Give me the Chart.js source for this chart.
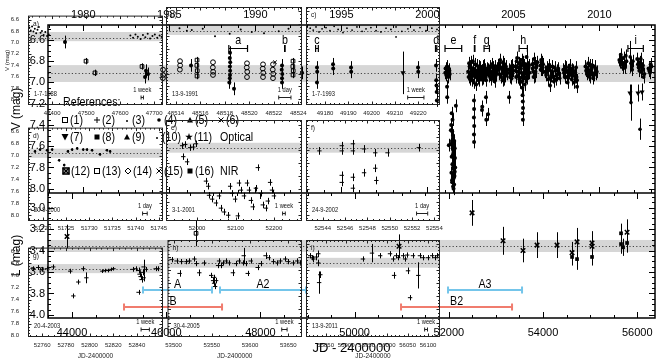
<!DOCTYPE html>
<html>
<head>
<meta charset="utf-8">
<title>V and L light curve</title>
<script src="https://cdn.jsdelivr.net/npm/chart.js"></script>
<style>
  html, body { margin: 0; padding: 0; background: #fff; }
  body { position: relative; width: 664px; height: 364px; overflow: hidden; }
  canvas { position: absolute; }
</style>
</head>
<body>
<canvas id="main" width="664" height="364" style="left:0;top:0"></canvas>
<script>
const FONT = "'Liberation Sans Narrow', 'Liberation Sans', Arial, sans-serif";
Chart.defaults.font.family = FONT;
Chart.defaults.color = '#000';

// ---- main axes ----
const yearLabels = [1980, 1985, 1990, 1995, 2000, 2005, 2010];
const jdLabels = [44000, 46000, 48000, 50000, 52000, 54000, 56000];
const vLabels = [6.6, 6.8, 7.0, 7.2, 7.4, 7.6, 7.8, 8.0];
const lLabels = [3.0, 3.2, 3.4, 3.6, 3.8, 4.0];
const vBand = [6.837, 6.996, 6.91];
const lBand = [3.302, 3.414, 3.358];

// ---- main V light curve (filled points) ----
const mvJD = [
  43851, 45550, 45571, 45614, 46526,
  47354, 47350, 47358, 47352, 47356, 47354, 47350, 47340, 47439,
  48458, 48452, 48464, 48458, 48458,
  48883,
  49201, 49205, 49201,
  49541, 49545,
  49923, 49927,
  51346, 51350,
  51728, 51733, 51738, 51742, 51746,
  51930, 51945, 51960, 51975, 51990, 52005, 52020,
  51962, 51965, 52060, 52150, 52050, 52070, 52090, 52040, 52080, 52100, 52060, 52110, 52075, 52095, 52085, 52105, 52070, 52090, 52115, 52125, 52130, 52055, 52135, 52000, 52120, 52100,
  52410, 52430, 52450, 52470, 52490, 52510, 52530, 52550, 52570, 52590, 52610, 52630, 52650,
  52534, 52536, 52532, 52538, 52534, 52536,
  52670, 52690, 52710, 52730, 52750, 52770, 52790, 52805,
  52704, 52789, 52710, 52795, 52832,
  52840, 52860, 52880, 52900, 52920, 52940, 52960, 52980, 53000, 53020,
  53050, 53070, 53090, 53110, 53130, 53150, 53170, 53190, 53210, 53230,
  53280, 53300, 53320, 53340, 53360, 53278,
  53410, 53430, 53450, 53470, 53490, 53510, 53530, 53550, 53570, 53590, 53610, 53630, 53650, 53670, 53690, 53710,
  53560, 53565, 53570, 53575, 53568, 53572,
  53770, 53790, 53810, 53830, 53850, 53880,
  53940, 53960, 53980, 54000,
  54050, 54080, 54110, 54140, 54170, 54200, 54230, 54260, 54290, 54320, 54350, 54148,
  54430, 54460, 54490, 54520, 54550, 54580, 54610, 54640, 54670, 54700, 54720, 54722,
  54900, 54930, 54960, 54990, 55020, 55050, 55080, 55110, 55140,
  55620, 55650, 55680, 55710, 55740, 55770,
  55870, 55890, 55905,
  56000, 56030, 56060, 56090, 56120, 56150,
  56240, 56270, 56300
];
const mvV = [
  6.62, 6.95, 6.89, 6.92, 6.84,
  6.72, 6.77, 6.81, 6.85, 6.89, 6.93, 6.96, 7.00, 7.06,
  6.84, 6.88, 6.92, 6.96, 7.00,
  6.91,
  6.86, 6.90, 7.00,
  6.83, 6.87,
  6.86, 6.90,
  6.86, 6.90,
  6.84, 6.98, 7.03, 7.09, 7.17,
  6.87, 6.93, 6.85, 6.90, 6.95, 6.88, 6.92,
  7.04, 7.14, 7.29, 7.22, 7.40, 7.46, 7.52, 7.58, 7.62, 7.66, 7.70, 7.73, 7.77, 7.81, 7.86, 7.90, 7.94, 7.98, 7.55, 7.62, 7.71, 7.85, 7.80, 7.59, 7.88, 8.00,
  6.90, 6.82, 6.97, 6.86, 6.93, 6.80, 7.00, 6.88, 6.95, 6.84, 6.91, 6.98, 6.87,
  7.17, 7.25, 7.33, 7.41, 7.49, 7.56,
  6.86, 6.93, 6.89, 6.96, 6.84, 6.91, 6.98, 6.88,
  7.26, 7.14, 7.23, 7.35, 7.30,
  6.88, 6.94, 6.85, 6.97, 6.90, 6.86, 6.95, 6.89, 6.93, 6.87,
  6.84, 6.92, 6.79, 6.95, 6.87, 6.81, 6.97, 6.89, 6.85, 6.92,
  6.88, 6.95, 6.85, 6.92, 6.89, 7.14,
  6.85, 6.95, 6.77, 6.90, 6.82, 7.00, 6.87, 6.79, 6.93, 6.84, 7.02, 6.88, 6.76, 6.96, 6.86, 6.91,
  7.05, 7.12, 7.18, 7.24, 7.29, 7.35,
  6.83, 6.90, 6.78, 6.94, 6.86, 6.81,
  6.84, 6.79, 6.88, 6.83,
  6.90, 6.86, 6.97, 6.88, 6.94, 6.85, 6.99, 6.89, 6.93, 6.87, 6.96, 7.03,
  6.88, 6.95, 6.86, 7.00, 6.91, 6.87, 6.97, 6.89, 6.94, 6.86, 6.98, 7.04,
  6.85, 6.92, 6.82, 6.95, 6.88, 6.84, 6.93, 6.87, 6.90,
  6.79, 6.74, 6.83, 6.77, 6.86, 6.80,
  6.82, 6.88, 6.80,
  6.78, 6.86, 6.81, 6.90, 6.84, 6.92,
  6.87, 6.91, 6.85
];
// more points inside the dense 2001-2012 clusters
const mvDenseJD = [
  51925, 51952, 51985, 52012,
  52043, 52065, 52085, 52105, 52125, 52068, 52098, 52078, 52112, 52088,
  52420, 52440, 52460, 52480, 52500, 52520, 52540, 52560, 52580, 52600, 52620, 52640, 52660,
  52680, 52700, 52720, 52740, 52760, 52780, 52800,
  52850, 52870, 52890, 52910, 52930, 52950, 52970, 52990, 53010,
  53060, 53080, 53100, 53120, 53140, 53160, 53180, 53200, 53220,
  53290, 53310, 53330, 53350,
  53420, 53440, 53460, 53480, 53500, 53520, 53540, 53560, 53580, 53600, 53620, 53640, 53660, 53680, 53700,
  53780, 53800, 53820, 53840, 53860,
  53950, 53970, 53990,
  54065, 54095, 54125, 54155, 54185, 54215, 54245, 54275, 54305, 54335,
  54445, 54475, 54505, 54535, 54565, 54595, 54625, 54655, 54685, 54710,
  54915, 54945, 54975, 55005, 55035, 55065, 55095, 55125,
  55635, 55665, 55695, 55725, 55755,
  56015, 56045, 56075, 56105, 56135,
  56255, 56285
];
const mvDenseV = [
  6.91, 6.86, 6.93, 6.89,
  7.45, 7.55, 7.68, 7.75, 7.84, 7.92, 7.64, 7.35, 7.96, 7.50,
  6.95, 6.85, 6.92, 6.81, 6.98, 6.87, 6.94, 6.83, 7.02, 6.89, 6.96, 6.85, 6.93,
  6.90, 6.97, 6.85, 6.93, 6.88, 6.95, 6.87,
  6.91, 6.87, 6.96, 6.83, 6.94, 6.89, 6.99, 6.85, 6.91,
  6.88, 6.82, 6.93, 6.86, 6.98, 6.90, 6.83, 6.94, 6.88,
  6.91, 6.87, 6.96, 6.84,
  6.89, 6.80, 6.94, 6.86, 6.97, 6.83, 6.91, 6.99, 6.81, 6.92, 6.87, 6.95, 6.83, 6.90, 6.84,
  6.87, 6.95, 6.82, 6.90, 6.85,
  6.88, 6.81, 6.86,
  6.93, 6.88, 6.84, 6.96, 6.90, 6.95, 6.86, 6.97, 6.89, 6.92,
  6.91, 6.85, 6.95, 6.89, 6.84, 6.93, 6.88, 7.00, 6.91, 6.95,
  6.89, 6.86, 6.93, 6.84, 6.91, 6.96, 6.85, 6.92,
  6.81, 6.77, 6.86, 6.82, 6.75,
  6.83, 6.89, 6.78, 6.87, 6.95,
  6.89, 6.83
];
// points with long error bars
const mvLongJD = [55850, 55867, 56058];
const mvLongV = [6.76, 7.19, 7.44];
const mvLongErr = [0.15, 0.17, 0.10];
// open squares, open ovals, triangles, crosses
const msqJD = [44297, 44488, 45486, 46654, 46650, 46658, 46654, 48692, 48688, 48696, 48692];
const msqV = [6.80, 6.91, 6.85, 6.79, 6.84, 6.89, 6.94, 6.80, 6.85, 6.89, 6.93];
const moJD = [45932, 45935, 45930, 46293, 46295, 46290, 46993, 46990, 46996, 46993, 47715, 47710, 47720, 47715, 48055, 48050, 48060, 48055, 48267, 48262, 48272, 48267];
const moV = [6.88, 6.93, 6.96, 6.80, 6.84, 6.88, 6.81, 6.86, 6.90, 6.93, 6.82, 6.86, 6.90, 6.95, 6.83, 6.87, 6.91, 6.95, 6.83, 6.88, 6.92, 6.96];
const mtJD = [51027, 55846, 56016, 56101];
const mtV = [6.91, 7.10, 7.10, 7.09];
const mtErr = [0.20, 0.08, 0.08, 0.08];
const mxJD = [48310];
const mxV = [6.81];

// ---- main L light curve ----
const mlxJD = [43894, 50943, 52493, 53151, 53575, 53873, 54297, 54616, 54722, 55040, 55040, 55784];
const mlxL = [3.27, 3.36, 3.05, 3.31, 3.40, 3.35, 3.35, 3.42, 3.32, 3.33, 3.36, 3.23];
const mlxErr = [0.11, 0.11, 0.12, 0.13, 0.11, 0.12, 0.12, 0.10, 0.13, 0.11, 0.11, 0.12];
const mlsJD = [54616, 54722, 55040, 55656, 55656, 55699, 55784];
const mlsL = [3.46, 3.48, 3.46, 3.24, 3.34, 3.37, 3.33];
const mlsErr = [0.08, 0.10, 0.08, 0.09, 0.09, 0.08, 0.09];
const mloJD = [46633];
const mloL = [3.24];

// ---- periods A, A2, A3, B, B2 ----
const rangeNames = ['A', 'A2', 'A3', 'B', 'B2'];
const rangeStart = [45507, 47142, 51983, 45104, 50985];
const rangeEnd = [46972, 48968, 53554, 47185, 53342];
const rangeL = [3.767, 3.767, 3.767, 3.926, 3.926];

// ---- zoom panels a) ... i) ----
const panelNames = ['a', 'b', 'c', 'd', 'e', 'f', 'g', 'h', 'i'];
const panelStart = [47329, 48513.2, 49171.8, 51716.8, 51919, 52542.5, 52748, 53492, 55802];
const panelEnd = [47726, 48524.3, 49229.4, 51745.9, 52273, 52554.5, 52862, 53668, 56129];
const panelTicks = [
  [47400, 47500, 47600, 47700],
  [48514, 48516, 48518, 48520, 48522, 48524],
  [49180, 49190, 49200, 49210, 49220],
  [51720, 51725, 51730, 51735, 51740, 51745],
  [52000, 52100, 52200],
  [52544, 52546, 52548, 52550, 52552, 52554],
  [52760, 52780, 52800, 52820, 52840],
  [53500, 53550, 53600, 53650],
  [55850, 55900, 55950, 56000, 56050, 56100]
];
const panelDates = ['1-7-1988', '13-9-1991', '1-7-1993', '20-9-2000', '3-1-2001', '24-9-2002', '20-4-2003', '30-4-2005', '13-9-2011'];
const barText = ['1 week', '1 day', '1 week', '1 day', '1 week', '1 day', '1 week', '1 week', '1 week'];
const barDays = [7, 1, 7, 1, 7, 1, 7, 7, 7];
const barJD = [47665, 48522.9, 49219, 51742, 52226, 52552.9, 52847, 53645, 56095];
const insetYLabels = [6.6, 6.8, 7.0, 7.2, 7.4, 7.6, 7.8, 8.0];
const rowYMin = [6.53, 6.53, 6.54];
const rowYMax = [8.1, 8.1, 8.02];
const rowBand = [[6.818, 6.979, 6.915], [6.884, 7.038, 6.961], [6.812, 6.963, 6.887]];

const aJD = [47333, 47337, 47341, 47345, 47349, 47353, 47357, 47361, 47366, 47370, 47375, 47380, 47385, 47390, 47630, 47638, 47645, 47652, 47660, 47667, 47674, 47681, 47688, 47695, 47702, 47709, 47716, 47722];
const aV = [6.74, 6.79, 6.72, 6.81, 6.76, 6.84, 6.78, 6.73, 6.83, 6.80, 6.87, 6.82, 6.89, 6.86, 6.88, 6.92, 6.86, 6.90, 6.94, 6.87, 6.91, 6.85, 6.93, 6.89, 6.86, 6.92, 6.88, 6.90];
const bJD = [48514.3, 48515.3, 48516.2, 48517.2, 48518.4, 48520.2, 48521.2, 48523.2, 48514.9, 48519.3, 48522.4];
const bV = [6.87, 6.90, 6.88, 7.00, 6.96, 6.93, 6.95, 6.88, 6.91, 6.89, 6.92];
const cJD = [49173.6, 49174.9, 49176.1, 49177.4, 49178.7, 49180.4, 49182.1, 49183.9, 49185.6, 49187.7, 49189.4, 49191.6, 49193.7, 49195.9, 49197.6, 49199.7, 49201.9, 49204.0, 49206.2, 49208.3, 49210.5, 49213.0, 49215.6, 49218.2, 49220.8, 49223.4, 49225.9, 49228.1, 49210.5];
const cV = [6.87, 6.90, 6.85, 6.93, 6.88, 6.86, 6.91, 6.84, 6.89, 6.94, 6.87, 6.90, 6.85, 6.92, 6.88, 6.86, 6.91, 6.93, 6.87, 6.89, 6.85, 6.92, 6.88, 6.90, 6.86, 6.91, 6.87, 6.89, 7.01];
const dJD = [51718.3, 51719.4, 51720.9, 51722.0, 51725.4, 51726.3, 51727.4, 51728.7, 51729.5, 51730.6, 51732.3, 51733.8, 51734.5, 51723.5, 51724.6];
const dV = [6.93, 6.90, 6.91, 6.90, 6.93, 6.90, 6.88, 6.90, 6.90, 6.91, 6.98, 6.91, 6.93, 7.08, 7.16];
const eJD = [51961, 51969, 51982, 51990, 51997, 51964, 51974, 52023, 52029, 52031, 52039, 52049, 52057, 52062, 52070, 52081, 52086, 52091, 52099, 52106, 52109, 52114, 52122, 52130, 52135, 52140, 52145, 52153, 52158, 52166, 52171, 52179, 52184, 52190, 52195, 52200];
const eV = [6.93, 6.91, 6.96, 6.95, 6.90, 7.10, 7.18, 7.48, 7.56, 7.70, 7.76, 7.82, 7.71, 7.90, 7.96, 8.01, 7.56, 7.67, 7.76, 8.02, 7.51, 7.62, 7.71, 7.51, 7.62, 7.78, 7.88, 7.59, 7.27, 7.67, 7.85, 7.90, 7.79, 7.50, 7.62, 7.71];
const fJD = [52543.7, 52545.7, 52545.7, 52546.7, 52546.7, 52547.7, 52548.7, 52549.8, 52552.6, 52545.7, 52545.7, 52546.7, 52547.7, 52548.7, 52548.8, 52546.7];
const fV = [7.01, 6.93, 7.01, 6.90, 7.01, 6.98, 7.04, 7.04, 6.96, 7.39, 7.50, 7.42, 7.35, 7.28, 7.47, 7.59];
const gJD = [52752.4, 52756.6, 52760.0, 52764.2, 52769.3, 52783.7, 52786.3, 52790.5, 52794.7, 52797.3, 52810.8, 52813.4, 52815.9, 52818.5, 52820.2, 52836.3, 52838.8, 52841.4, 52842.2, 52843.1, 52843.9, 52844.7, 52845.6, 52845.6, 52841.4, 52847.3, 52855.8, 52857.5];
const gV = [6.89, 6.87, 6.90, 6.89, 6.86, 6.93, 7.34, 7.11, 6.89, 7.04, 6.93, 6.92, 6.92, 6.90, 6.89, 6.90, 6.89, 6.92, 6.98, 7.02, 7.07, 6.95, 6.86, 7.04, 7.28, 6.90, 6.89, 6.89];
const gErr = [0.04, 0.04, 0.04, 0.04, 0.04, 0.04, 0.04, 0.04, 0.04, 0.09, 0.03, 0.03, 0.03, 0.03, 0.03, 0.04, 0.04, 0.05, 0.05, 0.05, 0.05, 0.05, 0.12, 0.06, 0.04, 0.04, 0.04, 0.04];
const hJD = [53497.4, 53503.9, 53507.8, 53510.3, 53516.8, 53520.7, 53527.2, 53529.8, 53533.6, 53540.1, 53549.2, 53551.7, 53553.0, 53553.0, 53555.6, 53554.3, 53558.2, 53559.5, 53562.1, 53564.7, 53568.6, 53572.4, 53577.6, 53581.5, 53585.4, 53590.6, 53591.8, 53594.4, 53597.0, 53600.9, 53610.0, 53613.8, 53620.3, 53624.2, 53630.7, 53635.8, 53639.7, 53646.2, 53650.1, 53656.5, 53661.7, 53665.6];
const hV = [6.84, 6.86, 7.05, 6.87, 6.87, 6.86, 6.83, 6.90, 7.04, 6.89, 7.08, 7.16, 7.20, 7.11, 7.16, 7.25, 6.93, 6.86, 6.93, 6.89, 6.86, 6.89, 7.04, 6.90, 6.86, 6.89, 6.78, 6.90, 7.05, 6.86, 6.96, 6.90, 6.78, 6.81, 6.87, 6.89, 6.86, 6.83, 6.87, 6.89, 6.86, 6.89];
const hErr = [0.04, 0.04, 0.05, 0.04, 0.04, 0.04, 0.04, 0.04, 0.05, 0.04, 0.04, 0.04, 0.04, 0.04, 0.04, 0.04, 0.04, 0.04, 0.04, 0.04, 0.04, 0.04, 0.05, 0.04, 0.04, 0.04, 0.12, 0.04, 0.04, 0.04, 0.04, 0.04, 0.05, 0.04, 0.04, 0.04, 0.04, 0.04, 0.04, 0.04, 0.04, 0.04];
const iJD = [55812, 55817, 55820, 55827, 55832, 55832, 55837, 55834, 55941, 55963, 55983, 56007, 56015, 56017, 56022, 56027, 56039, 56044, 56049, 56051, 56056, 56063, 56076, 56080, 56088, 56100, 56110, 56117, 56122];
const iV = [6.78, 6.81, 6.83, 6.80, 6.75, 6.89, 7.07, 7.19, 6.83, 6.74, 6.78, 6.75, 6.83, 7.08, 6.78, 6.81, 6.78, 6.83, 6.77, 7.01, 7.42, 6.78, 7.08, 6.78, 6.81, 6.81, 6.78, 6.81, 6.78];
const iErr = [0.04, 0.04, 0.05, 0.05, 0.05, 0.05, 0.05, 0.17, 0.04, 0.14, 0.04, 0.04, 0.04, 0.05, 0.04, 0.04, 0.04, 0.04, 0.04, 0.05, 0.04, 0.04, 0.20, 0.04, 0.04, 0.04, 0.04, 0.04, 0.04];

// ---- layout ----
const COLS = [{ x: 28, w: 135 }, { x: 166, w: 136 }, { x: 306, w: 134 }];
const ROWS = [{ y: 7, h: 98 }, { y: 119, h: 102 }, { y: 239, h: 98 }];
const minorStep = [20, 0.5, 2, 1, 20, 0.5, 5, 10, 10];
const SQUEEZE = 0.82; // the figure's lettering is condensed

const pts = (xs, ys) => xs.map((x, i) => ({ x, y: ys[i] }));
function steps(a, b, s) {
  const out = [];
  for (let v = Math.ceil(a / s - 1e-9) * s; v <= b + 1e-9; v += s) out.push(+v.toFixed(4));
  return out;
}
function yearJD(y) { return Date.UTC(y, 0, 1) / 86400000 + 40587.5; }

// condensed text
function ntext(ctx, t, x, y) {
  ctx.save();
  ctx.translate(x, y);
  ctx.scale(SQUEEZE, 1);
  ctx.fillText(t, 0, 0);
  ctx.restore();
}

function drawErrors(chart) {
  const ctx = chart.ctx, A = chart.chartArea;
  ctx.save();
  ctx.beginPath();
  ctx.rect(A.left, A.top, A.right - A.left, A.bottom - A.top);
  ctx.clip();
  ctx.strokeStyle = '#000';
  ctx.lineWidth = 1;
  chart.data.datasets.forEach((ds, i) => {
    if (ds.errs == null) return;
    const meta = chart.getDatasetMeta(i);
    ctx.beginPath();
    ds.data.forEach((p, j) => {
      const e = Array.isArray(ds.errs) ? ds.errs[j] : ds.errs;
      const px = Math.round(meta.xScale.getPixelForValue(p.x)) + 0.5;
      ctx.moveTo(px, meta.yScale.getPixelForValue(p.y - e));
      ctx.lineTo(px, meta.yScale.getPixelForValue(p.y + e));
    });
    ctx.stroke();
  });
  ctx.restore();
}

function drawBand(ctx, l, r, ys, b) {
  const y0 = ys.getPixelForValue(b[0]), y1 = ys.getPixelForValue(b[1]), ym = Math.round(ys.getPixelForValue(b[2])) + 0.5;
  ctx.save();
  ctx.fillStyle = 'rgba(0,0,0,0.16)';
  ctx.fillRect(l, Math.min(y0, y1), r - l, Math.abs(y1 - y0));
  ctx.setLineDash([1.2, 2.2]);
  ctx.strokeStyle = '#444';
  ctx.lineWidth = 1;
  ctx.beginPath();
  ctx.moveTo(l, ym);
  ctx.lineTo(r, ym);
  ctx.stroke();
  ctx.restore();
}

// inward ticks on all four sides of a box
function inTicks(ctx, box, xs, xMaj, xMin, ys, yMaj, yMin, L1, L2) {
  ctx.beginPath();
  const xt = (vals, len) => vals.forEach(v => {
    const p = Math.round(xs.getPixelForValue(v)) + 0.5;
    if (p < box.l || p > box.r) return;
    ctx.moveTo(p, box.t); ctx.lineTo(p, box.t + len);
    ctx.moveTo(p, box.b); ctx.lineTo(p, box.b - len);
  });
  const yt = (vals, len) => vals.forEach(v => {
    const p = Math.round(ys.getPixelForValue(v)) + 0.5;
    if (p < box.t || p > box.b) return;
    ctx.moveTo(box.l, p); ctx.lineTo(box.l + len, p);
    ctx.moveTo(box.r, p); ctx.lineTo(box.r - len, p);
  });
  xt(xMaj, L1); xt(xMin, L2); yt(yMaj, L1); yt(yMin, L2);
  ctx.stroke();
}

function capBar(ctx, x0, x1, y, cap) {
  ctx.beginPath();
  ctx.moveTo(x0, y); ctx.lineTo(x1, y);
  ctx.moveTo(x0, y - cap); ctx.lineTo(x0, y + cap);
  ctx.moveTo(x1, y - cap); ctx.lineTo(x1, y + cap);
  ctx.stroke();
}

// legend symbols
function sym(ctx, k, x, y) {
  ctx.save();
  ctx.fillStyle = '#000'; ctx.strokeStyle = '#000'; ctx.lineWidth = 1;
  ctx.beginPath();
  if (k === 'sq') ctx.strokeRect(x - 2.5, y - 2.5, 5, 5);
  else if (k === 'sqF') ctx.fillRect(x - 2.5, y - 2.5, 5, 5);
  else if (k === 'plus') { ctx.moveTo(x - 3, y); ctx.lineTo(x + 3, y); ctx.moveTo(x, y - 3); ctx.lineTo(x, y + 3); ctx.stroke(); }
  else if (k === 'dot') { ctx.arc(x, y + 1, 1, 0, 7); ctx.fill(); }
  else if (k === 'circ') { ctx.arc(x, y, 1.8, 0, 7); ctx.fill(); }
  else if (k === 'tri') { ctx.moveTo(x, y - 3); ctx.lineTo(x + 3, y + 2.5); ctx.lineTo(x - 3, y + 2.5); ctx.fill(); }
  else if (k === 'triD') { ctx.moveTo(x, y + 3.5); ctx.lineTo(x + 3.5, y - 3); ctx.lineTo(x - 3.5, y - 3); ctx.fill(); }
  else if (k === 'x') { ctx.moveTo(x - 2.5, y - 2.5); ctx.lineTo(x + 2.5, y + 2.5); ctx.moveTo(x + 2.5, y - 2.5); ctx.lineTo(x - 2.5, y + 2.5); ctx.stroke(); }
  else if (k === 'boxX') { ctx.lineWidth = 1.6; ctx.strokeRect(x - 3, y - 3, 6, 6); ctx.moveTo(x - 3, y - 3); ctx.lineTo(x + 3, y + 3); ctx.moveTo(x + 3, y - 3); ctx.lineTo(x - 3, y + 3); ctx.stroke(); }
  else if (k === 'dia') { ctx.moveTo(x, y - 3); ctx.lineTo(x + 3, y); ctx.lineTo(x, y + 3); ctx.lineTo(x - 3, y); ctx.closePath(); ctx.stroke(); }
  else if (k === 'star') {
    for (let i = 0; i < 10; i++) {
      const r = i % 2 ? 1.6 : 4, a = -Math.PI / 2 + i * Math.PI / 5;
      ctx.lineTo(x + r * Math.cos(a), y + r * Math.sin(a));
    }
    ctx.closePath(); ctx.fill();
  }
  ctx.restore();
}
const legendItems = [
  ['sq', '(1)', 65, 120], ['plus', '(2)', 97, 120], ['dot', '(3)', 127, 120], ['circ', '(4)', 159, 120], ['tri', '(5)', 190, 120], ['x', '(6)', 221, 120],
  ['triD', '(7)', 65, 137], ['sqF', '(8)', 97, 137], ['tri', '(9)', 127, 137], ['dot', '(10)', 157, 137], ['star', '(11)', 189, 137],
  ['boxX', '(12)', 66, 171], ['sq', '(13)', 97, 171], ['dia', '(14)', 128, 171], ['x', '(15)', 159, 171], ['sqF', '(16)', 190, 171]
];

const mainDeco = {
  id: 'mainDeco',
  beforeDatasetsDraw(chart) {
    const { ctx, scales: { x, yV, yL } } = chart;
    drawBand(ctx, x.left, x.right, yV, vBand);
    drawBand(ctx, x.left, x.right, yL, lBand);
  },
  afterDatasetsDraw(chart) {
    drawErrors(chart);
    const { ctx, scales: { x, yV, yL } } = chart;
    ctx.save();
    ctx.strokeStyle = '#000';
    ctx.lineWidth = 1;
    const years = [], yearMaj = yearLabels.map(yearJD);
    for (let y = 1977; y <= 2013; y++) years.push(yearJD(y));
    inTicks(ctx, { l: x.left, r: x.right, t: yV.top, b: yV.bottom }, x, yearMaj, years, yV, vLabels, steps(6.5, 8.04, 0.05), 6, 3);
    inTicks(ctx, { l: x.left, r: x.right, t: yL.top, b: yL.bottom }, x, jdLabels, steps(43500, 56377, 500), yL, lLabels, steps(2.9, 4.02, 0.05), 6, 3);
    ctx.lineWidth = 1.5;
    ctx.strokeRect(x.left, yV.top, x.right - x.left, yL.bottom - yV.top);
    ctx.beginPath(); ctx.moveTo(x.left, yV.bottom); ctx.lineTo(x.right, yV.bottom); ctx.stroke();

    // campaign markers a ... i
    ctx.lineWidth = 1.2;
    ctx.fillStyle = '#000';
    ctx.font = `13px ${FONT}`;
    ctx.textAlign = 'center';
    ctx.textBaseline = 'alphabetic';
    const by = Math.round(yV.getPixelForValue(6.678)) + 0.5;
    panelNames.forEach((n, i) => {
      const x0 = x.getPixelForValue(panelStart[i]), x1 = x.getPixelForValue(panelEnd[i]);
      capBar(ctx, x0, x1, by, 3.5);
      ntext(ctx, n, (x0 + x1) / 2, by - 5);
    });

    // periods A / B
    ctx.lineWidth = 2;
    ctx.font = `13px ${FONT}`;
    rangeNames.forEach((n, i) => {
      const x0 = x.getPixelForValue(rangeStart[i]), x1 = x.getPixelForValue(rangeEnd[i]);
      const y = Math.round(yL.getPixelForValue(rangeL[i]));
      ctx.strokeStyle = n[0] === 'A' ? '#74c5ea' : '#f07c6e';
      capBar(ctx, x0, x1, y, 3.5);
      ctx.fillStyle = '#000';
      ntext(ctx, n, (x0 + x1) / 2, y - 2);
    });

    // references legend
    ctx.textAlign = 'left';
    ctx.textBaseline = 'middle';
    ctx.font = `13px ${FONT}`;
    ntext(ctx, 'References:', 63, 102);
    legendItems.forEach(([k, t, lx, ly]) => {
      sym(ctx, k, lx, ly);
      ntext(ctx, t, lx + 5, ly);
    });
    ntext(ctx, 'Optical', 220, 137);
    ntext(ctx, 'NIR', 220, 171);
    ctx.restore();
  }
};

const black = { backgroundColor: '#000', borderColor: '#000' };
new Chart(document.getElementById('main'), {
  type: 'scatter',
  data: {
    datasets: [
      { yAxisID: 'yV', data: pts(mvJD, mvV), pointStyle: 'circle', pointRadius: 2, borderWidth: 0, errs: 0.06, ...black },
      { yAxisID: 'yV', data: pts(mvDenseJD, mvDenseV), pointStyle: 'circle', pointRadius: 2, borderWidth: 0, errs: 0.06, ...black },
      { yAxisID: 'yV', data: pts(mvLongJD, mvLongV), pointStyle: 'circle', pointRadius: 1.8, borderWidth: 0, errs: mvLongErr, ...black },
      { yAxisID: 'yV', data: pts(msqJD, msqV), pointStyle: 'rect', pointRadius: 2.6, borderWidth: 1, backgroundColor: 'rgba(0,0,0,0)', borderColor: '#000', errs: 0.03 },
      { yAxisID: 'yV', data: pts(moJD, moV), pointStyle: 'circle', pointRadius: 2.4, borderWidth: 1, backgroundColor: 'rgba(0,0,0,0)', borderColor: '#000' },
      { yAxisID: 'yV', data: pts(mtJD, mtV), pointStyle: 'triangle', pointRotation: 180, pointRadius: 3, borderWidth: 0, errs: mtErr, ...black },
      { yAxisID: 'yV', data: pts(mxJD, mxV), pointStyle: 'crossRot', pointRadius: 2.5, borderWidth: 1, ...black },
      { yAxisID: 'yL', data: pts(mlxJD, mlxL), pointStyle: 'crossRot', pointRadius: 3.2, borderWidth: 1.5, errs: mlxErr, ...black },
      { yAxisID: 'yL', data: pts(mlsJD, mlsL), pointStyle: 'rect', pointRadius: 2.6, borderWidth: 0, errs: mlsErr, ...black },
      { yAxisID: 'yL', data: pts(mloJD, mloL), pointStyle: 'rect', pointRadius: 2.6, borderWidth: 1, backgroundColor: 'rgba(0,0,0,0)', borderColor: '#000', errs: 0.12 }
    ]
  },
  options: {
    responsive: false, animation: false, events: [],
    layout: { padding: { left: 0, right: 9, top: 0, bottom: 0 } },
    plugins: { legend: { display: false }, tooltip: { enabled: false } },
    scales: {
      x: {
        type: 'linear', position: 'bottom', min: 43490, max: 56377,
        afterBuildTicks: s => { s.ticks = jdLabels.map(v => ({ value: v })); },
        afterFit: s => { s.height = 46; },
        grid: { display: false, drawTicks: false }, border: { display: false },
        ticks: { font: { size: 11 }, padding: 8, autoSkip: false, maxRotation: 0, callback: v => String(v) },
        title: { display: true, text: 'JD - 2400000', font: { size: 13 }, padding: { top: 0, bottom: 8 } }
      },
      xTop: {
        type: 'linear', position: 'top', min: 43490, max: 56377,
        afterBuildTicks: s => { s.ticks = yearLabels.map(v => ({ value: yearJD(v) })); },
        afterFit: s => { s.height = 25; },
        grid: { display: false, drawTicks: false }, border: { display: false },
        ticks: { font: { size: 11 }, padding: 3, autoSkip: false, maxRotation: 0, callback: (v, i) => String(yearLabels[i]) }
      },
      yV: {
        type: 'linear', position: 'left', stack: 'main', stackWeight: 168, weight: 2,
        reverse: true, min: 6.46, max: 8.04,
        afterBuildTicks: s => { s.ticks = vLabels.map(v => ({ value: v })); },
        afterFit: s => { s.width = 48; },
        grid: { display: false, drawTicks: false }, border: { display: false },
        ticks: { font: { size: 11 }, padding: 3, autoSkip: false, callback: v => v.toFixed(1) },
        title: { display: true, text: 'V (mag)', font: { size: 12 }, padding: { top: 9, bottom: 0 } }
      },
      yL: {
        type: 'linear', position: 'left', stack: 'main', stackWeight: 125, weight: 1,
        reverse: true, min: 2.865, max: 4.028,
        afterBuildTicks: s => { s.ticks = lLabels.map(v => ({ value: v })); },
        afterFit: s => { s.width = 48; },
        grid: { display: false, drawTicks: false }, border: { display: false },
        ticks: { font: { size: 11 }, padding: 3, autoSkip: false, callback: v => v.toFixed(1) },
        title: { display: true, text: 'L (mag)', font: { size: 12 }, padding: { top: 9, bottom: 0 } }
      }
    }
  },
  plugins: [mainDeco]
});

// ---- zoom panels ----
const insetDeco = {
  id: 'insetDeco',
  beforeDatasetsDraw(chart, args, o) {
    const { ctx, chartArea: A, scales: { y } } = chart;
    drawBand(ctx, A.left, A.right, y, o.band);
  },
  afterDatasetsDraw(chart, args, o) {
    drawErrors(chart);
    const { ctx, chartArea: A, scales: { x, y } } = chart;
    ctx.save();
    ctx.strokeStyle = '#222';
    ctx.lineWidth = 1;
    const box = { l: A.left + 0.5, r: A.right - 0.5, t: A.top + 0.5, b: A.bottom - 0.5 };
    ctx.strokeRect(box.l, box.t, box.r - box.l, box.b - box.t);
    inTicks(ctx, box, x, o.xMaj, o.xMin, y, insetYLabels, steps(6.55, 8.1, 0.05), 3, 1.5);
    ctx.fillStyle = '#111';
    ctx.textBaseline = 'middle';
    ctx.textAlign = 'left';
    ctx.font = `8px ${FONT}`;
    ntext(ctx, o.letter + ')', A.left + 5, A.top + 8);
    ctx.font = `7px ${FONT}`;
    ntext(ctx, o.date, A.left + 6, A.bottom - 11);
    const xc = x.getPixelForValue(o.barJD);
    const hw = Math.max(1, x.getPixelForValue(o.barJD + o.barDays / 2) - xc);
    ctx.textAlign = 'center';
    ntext(ctx, o.barText, xc, A.bottom - 15);
    capBar(ctx, xc - hw, xc + hw, Math.round(A.bottom - 8) + 0.5, 2);
    ctx.restore();
  }
};

const dotStyle = r => ({ pointStyle: 'circle', pointRadius: r, borderWidth: 0, ...black });
const plusStyle = { pointStyle: 'line', pointRadius: 2.2, borderWidth: 1, ...black };
const panelSets = [
  [{ data: pts(aJD, aV), ...dotStyle(1) }],
  [{ data: pts(bJD, bV), ...dotStyle(1) }],
  [{ data: pts(cJD, cV), ...dotStyle(0.9) }],
  [{ data: pts(dJD, dV), ...dotStyle(1.3), errs: 0.02 }],
  [{ data: pts(eJD, eV), ...plusStyle, errs: 0.05 }],
  [{ data: pts(fJD, fV), ...plusStyle, errs: 0.06 }],
  [{ data: pts(gJD, gV), ...plusStyle, errs: gErr }],
  [{ data: pts(hJD, hV), ...plusStyle, errs: hErr }],
  [{ data: pts(iJD, iV), ...plusStyle, errs: iErr }]
];

panelNames.forEach((n, i) => {
  const col = i % 3, row = Math.floor(i / 3);
  const C = COLS[col], R = ROWS[row];
  const yW = col === 0 ? 28 : 0;
  const padL = col === 0 ? 0 : 6, padT = 4, padR = 12;
  const padB = row === 2 ? 27 : 15;
  const cv = document.createElement('canvas');
  cv.width = padL + yW + C.w + padR;
  cv.height = padT + R.h + padB;
  cv.style.left = (C.x - padL - yW) + 'px';
  cv.style.top = (R.y - padT) + 'px';
  document.body.appendChild(cv);
  new Chart(cv, {
    type: 'scatter',
    data: { datasets: panelSets[i] },
    options: {
      responsive: false, animation: false, events: [],
      layout: { padding: { left: padL, right: padR, top: padT, bottom: 0 } },
      plugins: {
        legend: { display: false }, tooltip: { enabled: false },
        insetDeco: {
          band: rowBand[row], letter: n, date: panelDates[i],
          barText: barText[i], barDays: barDays[i], barJD: barJD[i],
          xMaj: panelTicks[i], xMin: steps(panelStart[i], panelEnd[i], minorStep[i])
        }
      },
      scales: {
        x: {
          type: 'linear', min: panelStart[i], max: panelEnd[i],
          afterBuildTicks: s => { s.ticks = panelTicks[i].map(v => ({ value: v })); },
          afterFit: s => { s.height = padB; },
          grid: { display: false, drawTicks: false }, border: { display: false },
          ticks: { font: { size: 6 }, color: '#222', padding: row === 1 ? 4 : 5, autoSkip: false, maxRotation: 0, callback: v => String(v) },
          title: { display: row === 2, text: 'JD-2400000', font: { size: 6.5 }, color: '#222', padding: { top: 0, bottom: 4 } }
        },
        y: {
          type: 'linear', reverse: true, min: rowYMin[row], max: rowYMax[row],
          display: col === 0,
          afterBuildTicks: s => { s.ticks = insetYLabels.map(v => ({ value: v })); },
          afterFit: s => { s.width = yW; },
          grid: { display: false, drawTicks: false }, border: { display: false },
          ticks: { font: { size: 6 }, color: '#222', padding: 9, autoSkip: false, callback: v => v.toFixed(1) },
          title: { display: row === 0, text: 'V (mag)', font: { size: 6 }, color: '#222', padding: { top: 4, bottom: 0 } }
        }
      }
    },
    plugins: [insetDeco]
  });
});
</script>
</body>
</html>
